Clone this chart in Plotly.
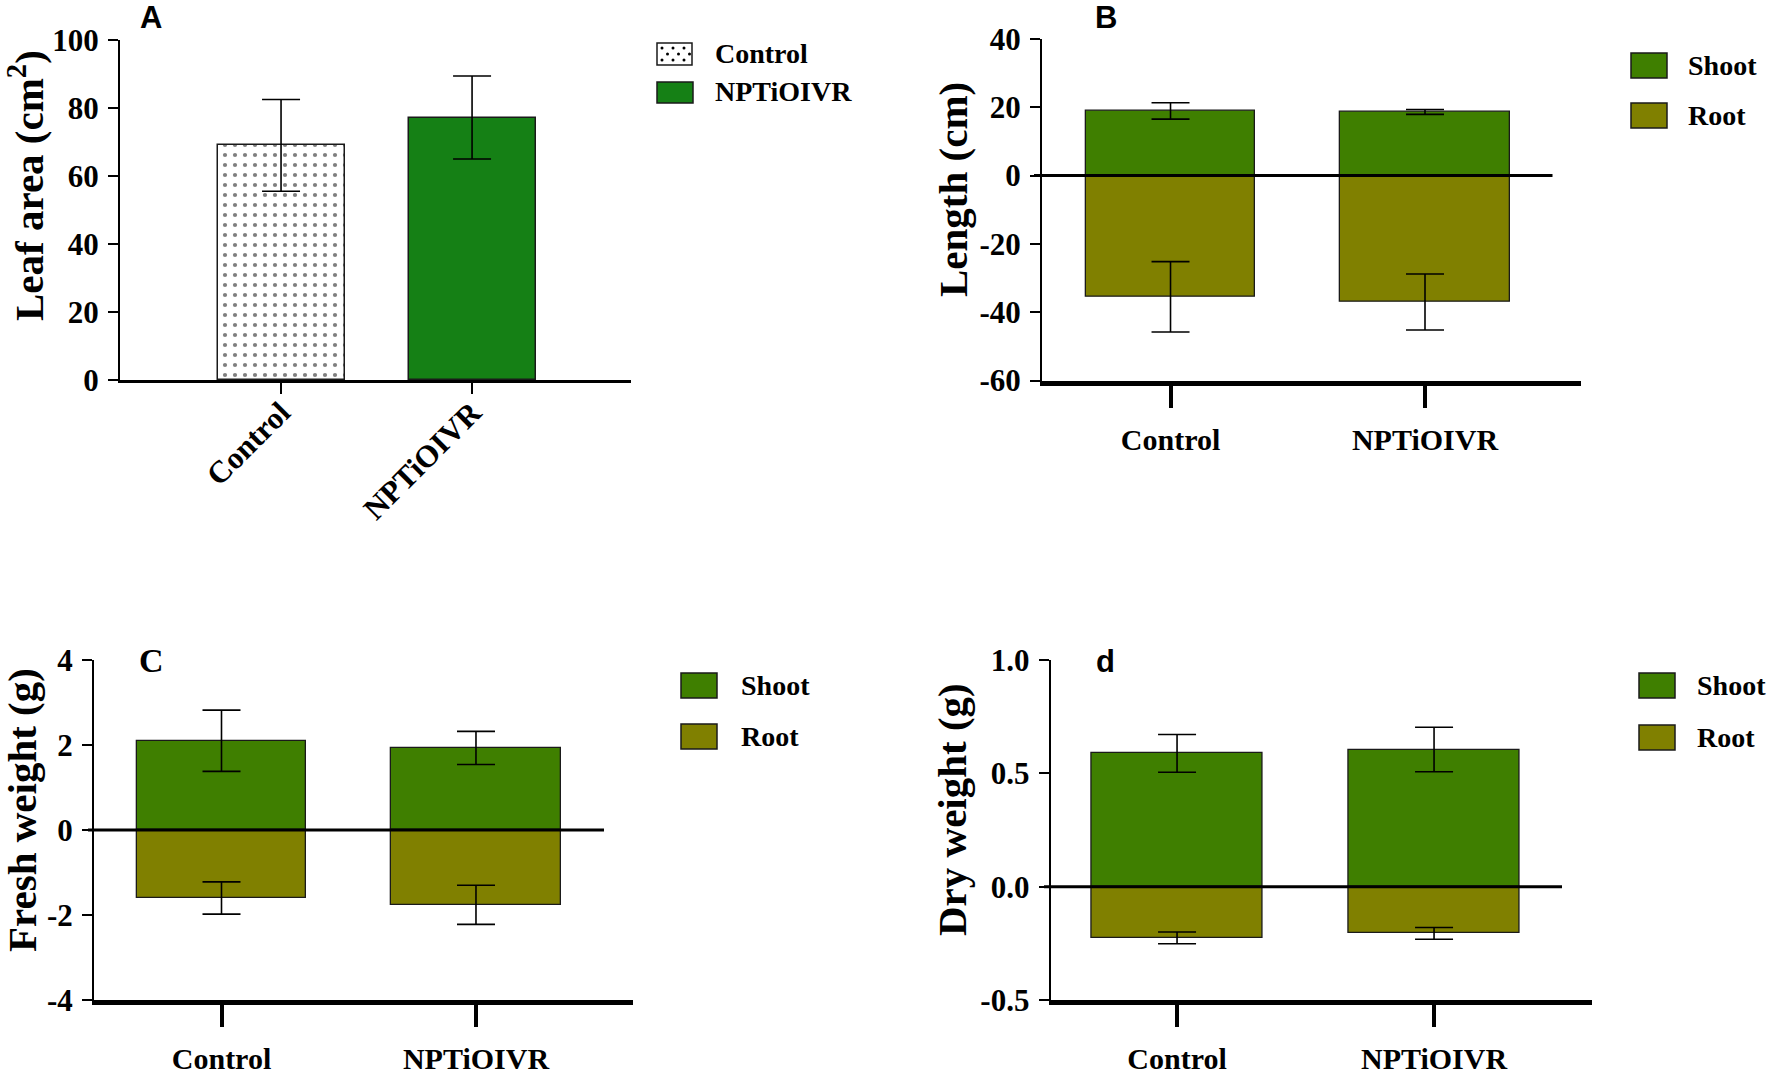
import plotly.graph_objects as go

# ---------------- data ----------------
categories = ["Control", "NPTiOIVR"]

leaf_area = [69.0, 77.2]
leaf_area_err = [13.5, 12.2]

length_shoot = [18.9, 18.6]
length_shoot_err = [2.4, 0.7]
length_root = [-35.5, -37.0]
length_root_err = [10.3, 8.2]

fresh_shoot = [2.10, 1.93]
fresh_shoot_err = [0.72, 0.39]
fresh_root = [-1.60, -1.76]
fresh_root_err = [0.38, 0.46]

dry_shoot = [0.588, 0.605]
dry_shoot_err = [0.083, 0.098]
dry_root = [-0.226, -0.206]
dry_root_err = [0.026, 0.026]

leaf_ticks = [0, 20, 40, 60, 80, 100]
leaf_ticktext = ["0", "20", "40", "60", "80", "100"]
length_ticks = [-60, -40, -20, 0, 20, 40]
length_ticktext = ["-60", "-40", "-20", "0", "20", "40"]
fresh_ticks = [-4, -2, 0, 2, 4]
fresh_ticktext = ["-4", "-2", "0", "2", "4"]
dry_ticks = [-0.5, 0.0, 0.5, 1.0]
dry_ticktext = ["-0.5", "0.0", "0.5", "1.0"]

# ---------------- style ----------------
W, H = 1770, 1076
SERIF = "Liberation Serif"
SANS = "Liberation Sans"
SHOOT = "#3f7f00"
ROOT = "#808000"
NPT_GREEN = "#158015"
EDGE = "#1a1a1a"
BARW = 0.665


def px(x):
    return x / W


def py(y):
    return 1 - y / H


def err(vals):
    return dict(type="data", array=vals, visible=True, color="black", thickness=1.6, width=19)


fig = go.Figure()

# Panel A
fig.add_trace(go.Bar(
    x=[categories[0]], y=[leaf_area[0]], width=[BARW], name="Control",
    marker=dict(color="white", line=dict(color=EDGE, width=1.5),
                pattern=dict(shape=".", fgcolor="black", bgcolor="white", size=10, solidity=0.14)),
    error_y=err([leaf_area_err[0]]), xaxis="x", yaxis="y", showlegend=False))
fig.add_trace(go.Bar(
    x=[categories[1]], y=[leaf_area[1]], width=[BARW], name="NPTiOIVR",
    marker=dict(color=NPT_GREEN, line=dict(color=EDGE, width=1.5)),
    error_y=err([leaf_area_err[1]]), xaxis="x", yaxis="y", showlegend=False))

# Panels B, C, D
panels = [
    ("x2", "y2", length_shoot, length_shoot_err, length_root, length_root_err),
    ("x3", "y3", fresh_shoot, fresh_shoot_err, fresh_root, fresh_root_err),
    ("x4", "y4", dry_shoot, dry_shoot_err, dry_root, dry_root_err),
]
for xa, ya, sv, se, rv, re_ in panels:
    fig.add_trace(go.Bar(x=categories, y=sv, width=[BARW] * 2, name="Shoot",
                         marker=dict(color=SHOOT, line=dict(color=EDGE, width=1.3)),
                         error_y=err(se), xaxis=xa, yaxis=ya, showlegend=False))
    fig.add_trace(go.Bar(x=categories, y=rv, width=[BARW] * 2, name="Root",
                         marker=dict(color=ROOT, line=dict(color=EDGE, width=1.3)),
                         error_y=err(re_), xaxis=xa, yaxis=ya, showlegend=False))

tickfont = dict(family=SERIF, size=31, color="black", weight="bold")
xtickfont = dict(family=SERIF, size=30, color="black", weight="bold")


def yax(domain, rng, tv, tt, anchor):
    return dict(domain=domain, range=rng, tickmode="array", tickvals=tv, ticktext=tt,
                anchor=anchor, automargin=False, showline=True, linewidth=2,
                linecolor="black", ticks="outside", ticklen=10, tickwidth=2, tickcolor="black",
                showgrid=False, zeroline=False, tickfont=tickfont, ticklabelstandoff=3)


def xax(domain, rng, anchor, thick=True, angle=0):
    return dict(domain=domain, range=rng, type="category", anchor=anchor, automargin=False,
                showline=True, linewidth=5 if thick else 3, linecolor="black", ticks="outside",
                ticklen=22 if thick else 11, tickwidth=4 if thick else 2, tickcolor="black",
                showgrid=False, zeroline=False, tickfont=xtickfont if thick else tickfont,
                tickangle=angle, ticklabelstandoff=6 if thick else -12)


fig.update_layout(
    width=W, height=H, margin=dict(l=0, r=0, t=0, b=0, autoexpand=False),
    paper_bgcolor="white", plot_bgcolor="white", barmode="relative", bargap=0,
    showlegend=False,
    xaxis=xax([px(120), px(631)], [-0.843, 1.832], "y", thick=False, angle=-45),
    yaxis=yax([py(380), py(40)], [0, 100], leaf_ticks, leaf_ticktext, "x"),
    xaxis2=xax([px(1042), px(1581)], [-0.505, 1.613], "y2"),
    yaxis2=yax([py(380.6), py(38.8)], [-60, 40], length_ticks, length_ticktext, "x2"),
    xaxis3=xax([px(94), px(633)], [-0.501, 1.617], "y3"),
    yaxis3=yax([py(1000), py(660)], [-4, 4], fresh_ticks, fresh_ticktext, "x3"),
    xaxis4=xax([px(1050.6), px(1591.6)], [-0.492, 1.613], "y4"),
    yaxis4=yax([py(1000), py(660)], [-0.5, 1.0], dry_ticks, dry_ticktext, "x4"),
)

shapes = []
# zero lines for B, C, D (in axis-domain fraction horizontally)
for xa, ya, x0p, x1p, left, right in [("x2", "y2", 1034, 1552.5, 1042, 1581),
                                      ("x3", "y3", 88, 604, 94, 633),
                                      ("x4", "y4", 1044, 1562, 1050.6, 1591.6)]:
    span = right - left
    shapes.append(dict(type="line", xref=xa + " domain", yref=ya,
                       x0=(x0p - left) / span, x1=(x1p - left) / span, y0=0, y1=0,
                       line=dict(color="black", width=3), layer="above"))


def box(x0, y0, x1, y1, color):
    return dict(type="rect", xref="paper", yref="paper", x0=px(x0), x1=px(x1),
                y0=py(y1), y1=py(y0), fillcolor=color, line=dict(color=EDGE, width=1.5))


annotations = []


def label(x, y, text, size=28, family=SERIF, anchor="left"):
    annotations.append(dict(x=px(x), y=py(y), xref="paper", yref="paper", text=text,
                            showarrow=False, xanchor=anchor, yanchor="middle",
                            font=dict(family=family, size=size, color="black", weight="bold")))


# Legend A
shapes.append(box(657, 43, 692, 65, "white"))
for r, yy in enumerate([48, 54, 60]):
    for c in range(3):
        xx = 662 + c * 11 + (5.5 if r % 2 else 0)
        if xx < 690:
            shapes.append(dict(type="circle", xref="paper", yref="paper",
                               x0=px(xx - 1.5), x1=px(xx + 1.5), y0=py(yy + 1.5), y1=py(yy - 1.5),
                               fillcolor="black", line=dict(width=0)))
shapes.append(box(657, 82, 693, 103, NPT_GREEN))
label(713, 53, "Control")
label(713, 92, "NPTiOIVR")

# Legends B, C, D
for bx, by0, by1, tx in [(1631, 53, 103, 1686), (681, 673, 724, 739), (1639, 673, 725, 1695)]:
    shapes.append(box(bx, by0, bx + 36, by0 + 25, SHOOT))
    shapes.append(box(bx, by1, bx + 36, by1 + 25, ROOT))
    label(tx, by0 + 12.5, "Shoot")
    label(tx, by1 + 12.5, "Root")

# Axis titles
for x, y, t in [(26, 186, "Leaf area (cm<sup>2</sup>)"), (953, 190, "Length (cm)"),
                (22, 810, "Fresh weight (g)"), (952, 810, "Dry weight (g)")]:
    annotations.append(dict(x=px(x), y=py(y), xref="paper", yref="paper", text=t,
                            showarrow=False, textangle=-90, xanchor="center", yanchor="middle",
                            font=dict(family=SERIF, size=41, color="black", weight="bold")))

# Panel letters
label(151, 17, "A", size=31, family=SANS, anchor="center")
label(1106, 17, "B", size=31, family=SANS, anchor="center")
label(151, 660, "C", size=34, family=SERIF, anchor="center")
label(1105, 661, "d", size=31, family=SANS, anchor="center")

fig.update_layout(shapes=shapes, annotations=annotations)

fig.write_html("out.html", config={"displayModeBar": False},
               post_script="document.body.style.margin='0';document.body.style.overflow='hidden';")
